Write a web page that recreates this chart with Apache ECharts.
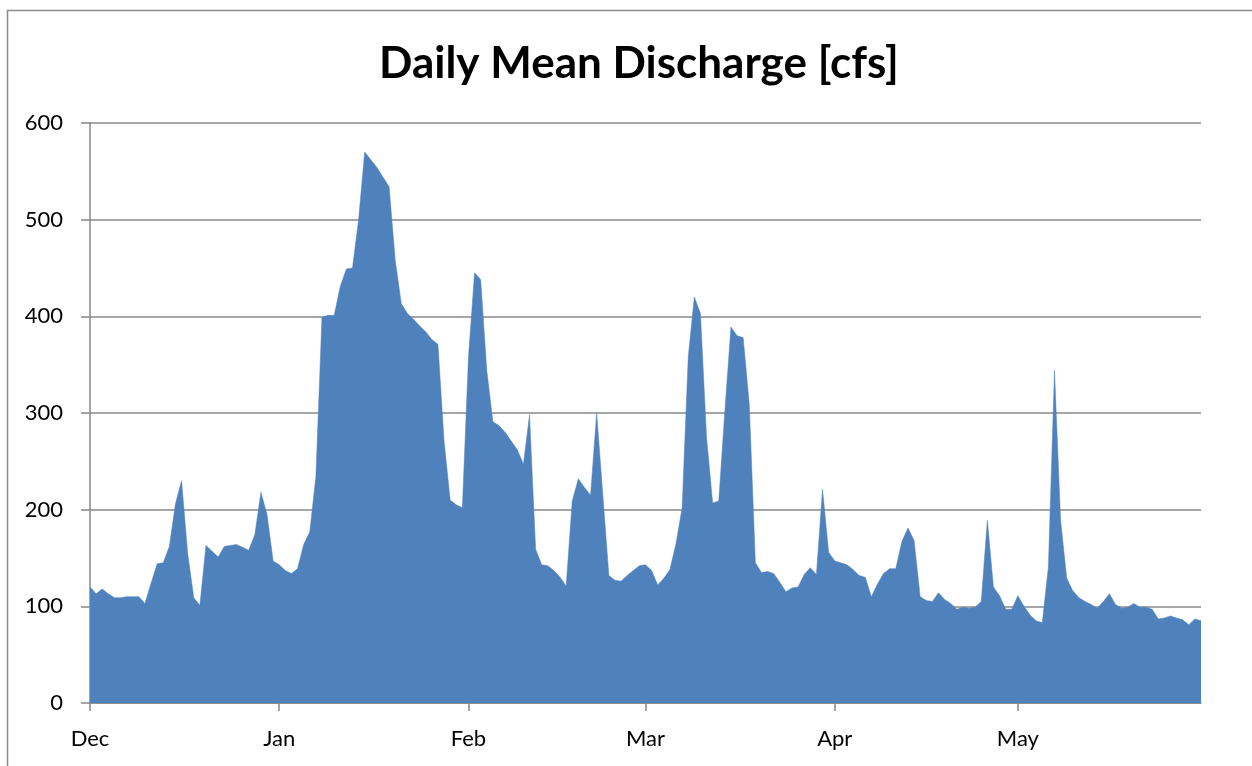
<!DOCTYPE html>
<html>
<head>
<meta charset="utf-8">
<script src="https://cdn.jsdelivr.net/npm/echarts@6/dist/echarts.min.js"></script>
<style>
  html, body { margin: 0; padding: 0; background: #fff; }
  #chart { width: 1252px; height: 766px; }
</style>
</head>
<body>
<div id="chart"></div>
<script>
// daily mean discharge, Dec 1 -> May 31 (leap-year Feb)
const decFlow = [120, 113, 118, 113, 109, 109, 110, 110, 110, 103, 124, 144, 145, 162, 206, 230, 155, 109, 101, 163, 157, 151, 162, 163, 164, 161, 158, 174, 218, 195, 147];
const janFlow = [143, 137, 134, 139, 164, 177, 234, 399, 401, 401, 431, 449, 450, 500, 570, 562, 554, 544, 534, 458, 413, 403, 397, 390, 384, 376, 371, 271, 210, 205, 202];
const febFlow = [358, 445, 438, 344, 291, 287, 280, 271, 262, 247, 298, 159, 143, 142, 137, 130, 121, 209, 232, 223, 215, 300, 216, 132, 127, 126, 132, 137, 142];
const marFlow = [143, 137, 122, 129, 138, 165, 202, 358, 420, 403, 275, 207, 209, 302, 389, 380, 378, 309, 145, 135, 136, 134, 125, 115, 119, 120, 133, 140, 133, 221, 156];
const aprFlow = [147, 145, 143, 138, 132, 130, 110, 123, 134, 139, 139, 167, 181, 168, 110, 106, 105, 114, 107, 103, 97, 99, 98, 99, 105, 189, 120, 111, 97, 97];
const mayFlow = [111, 100, 91, 85, 83, 141, 344, 189, 129, 116, 109, 105, 102, 98, 105, 113, 102, 98, 99, 103, 99, 99, 97, 87, 88, 90, 88, 86, 81, 87, 85];

const monthLabels = ['Dec', 'Jan', 'Feb', 'Mar', 'Apr', 'May'];
const months = [decFlow, janFlow, febFlow, marFlow, aprFlow, mayFlow];

// build the day categories, remember where each month starts
let days = [];
let flow = [];
let monthStart = {};
months.forEach((m, i) => {
  monthStart[days.length] = monthLabels[i];
  m.forEach((v, j) => {
    days.push(monthLabels[i] + ' ' + (j + 1));
    flow.push(v);
  });
});

const isStart = (idx) => monthStart[idx] !== undefined;
const font = 'Lato, "Open Sans", sans-serif';

let myChart = echarts.init(document.getElementById('chart'));
myChart.setOption({
  animation: false,
  title: {
    text: 'Daily Mean Discharge [cfs]',
    left: 374,
    top: 37,
    textStyle: { color: '#000', fontSize: 44, fontWeight: 'bold', fontFamily: font }
  },
  graphic: [{
    type: 'rect',
    shape: { x: 7.5, y: 10.5, width: 1400, height: 900 },
    style: { fill: 'none', stroke: '#8c8c8c', lineWidth: 1.5 },
    silent: true
  }],
  grid: { left: 90, right: 51, top: 123, bottom: 63 },
  xAxis: {
    type: 'category',
    data: days,
    boundaryGap: false,
    axisLine: { lineStyle: { color: '#888', width: 1.5 } },
    axisTick: { interval: isStart, length: 8, lineStyle: { color: '#888', width: 1.5 } },
    axisLabel: {
      interval: isStart,
      formatter: (val, idx) => monthStart[idx] || '',
      margin: 25,
      color: '#000',
      fontSize: 22,
      fontFamily: font
    },
    splitLine: { show: false }
  },
  yAxis: {
    type: 'value',
    min: 0,
    max: 600,
    interval: 100,
    axisLine: { show: true, lineStyle: { color: '#888', width: 1.5 } },
    axisTick: { show: true, length: 9, lineStyle: { color: '#888', width: 1.5 } },
    axisLabel: { margin: 27, color: '#000', fontSize: 22, fontFamily: font },
    splitLine: { lineStyle: { color: '#888', width: 1.5 } }
  },
  series: [{
    name: 'Discharge',
    type: 'line',
    data: flow,
    showSymbol: false,
    lineStyle: { width: 0.5, color: '#4F81BD' },
    areaStyle: { color: '#4F81BD', opacity: 1 }
  }]
});
</script>
</body>
</html>
